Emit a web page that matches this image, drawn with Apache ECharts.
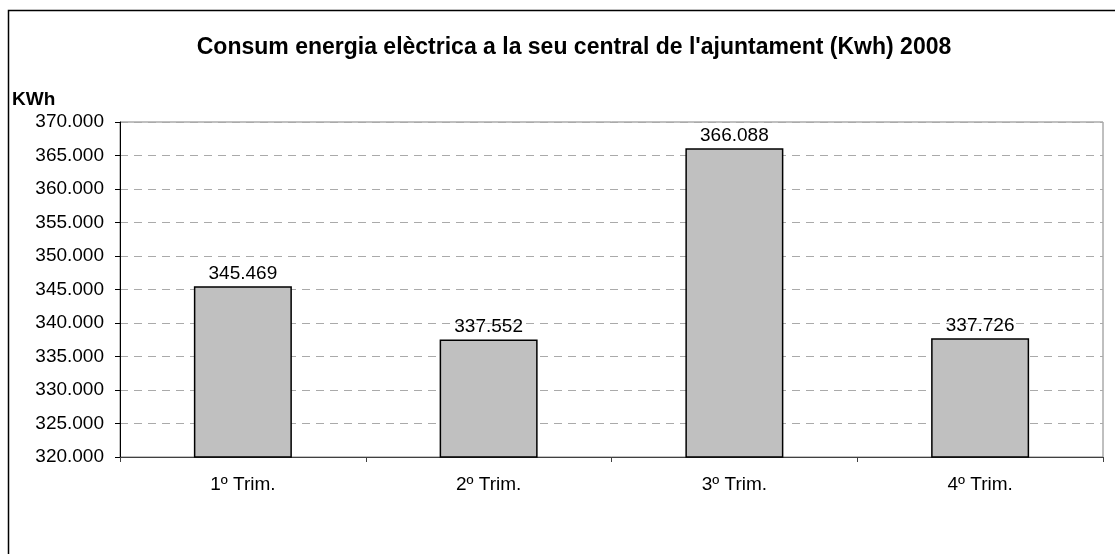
<!DOCTYPE html>
<html>
<head>
<meta charset="utf-8">
<script src="https://cdn.jsdelivr.net/npm/echarts@6/dist/echarts.min.js"></script>
<style>
  html, body { margin: 0; padding: 0; background: #fff; }
  #chart { width: 1115px; height: 554px; }
</style>
</head>
<body>
<div id="chart"></div>
<script>
// dades del gràfic
const trimestres = ['1º Trim.', '2º Trim.', '3º Trim.', '4º Trim.']
const consum = [345469, 337552, 366088, 337726]
const titol = "Consum energia elèctrica a la seu central de l'ajuntament (Kwh) 2008"
const unitat = 'KWh'

// 345469 -> "345.469"
const fmt = v => String(Math.round(v)).replace(/\B(?=(\d{3})+(?!\d))/g, '.')

const chart = echarts.init(document.getElementById('chart'))

chart.setOption({
  animation: false,
  textStyle: { fontFamily: 'Liberation Sans, Arial, sans-serif' },
  title: {
    text: titol,
    left: 569,
    top: 31,
    textAlign: 'center',
    textStyle: { fontSize: 23, fontWeight: 'bold', color: '#000' }
  },
  graphic: [
    {
      type: 'rect',
      shape: { x: 8.5, y: 10.5, width: 1200, height: 700 },
      style: { fill: 'none', stroke: '#000', lineWidth: 1.5 },
      z: -1
    },
    {
      type: 'text',
      left: 12,
      top: 90,
      style: { text: unitat, fontSize: 19, fontWeight: 'bold', fill: '#000', fontFamily: 'Liberation Sans, Arial, sans-serif' }
    }
  ],
  grid: {
    left: 120, right: 12, top: 122, bottom: 97,
    show: true, borderColor: '#808080', borderWidth: 1, backgroundColor: '#fff'
  },
  xAxis: {
    type: 'category',
    data: trimestres,
    boundaryGap: true,
    axisLine: { lineStyle: { color: '#404040', width: 1 } },
    axisTick: { show: true, alignWithLabel: false, length: 5, lineStyle: { color: '#404040' } },
    axisLabel: { color: '#000', fontSize: 19, margin: 18 }
  },
  yAxis: {
    type: 'value',
    min: 320000,
    max: 370000,
    interval: 5000,
    axisLine: { show: true, lineStyle: { color: '#000', width: 1 } },
    axisTick: { show: true, length: 5, lineStyle: { color: '#000' } },
    axisLabel: { color: '#000', fontSize: 19, margin: 16, formatter: fmt },
    splitLine: { show: true, lineStyle: { color: '#aaa', type: [8, 6], width: 1 } }
  },
  series: [{
    type: 'bar',
    data: consum,
    barWidth: 98,
    itemStyle: { color: '#c0c0c0', borderColor: '#000', borderWidth: 1.5 },
    label: {
      show: true,
      position: 'top',
      distance: 3,
      color: '#000',
      fontSize: 19,
      formatter: p => fmt(p.value)
    }
  }]
})
</script>
</body>
</html>
